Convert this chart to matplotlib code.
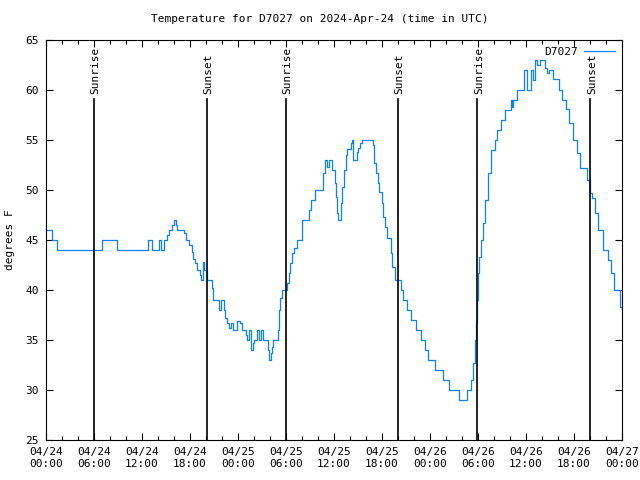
import matplotlib
matplotlib.use('Agg')
import matplotlib.pyplot as plt
from matplotlib.ticker import MultipleLocator

# ---- data (hours since 2024-04-24 00:00 UTC, degrees F) ----
hours = [0.0, 0.7, 1.4, 7.0, 8.9, 12.8, 13.3, 14.1, 14.4, 14.75, 15.1, 15.4, 15.7, 16.0,
         16.2, 16.35, 17.3, 17.55, 17.9, 18.2, 18.4, 18.6, 18.9, 19.25, 19.375, 19.6, 19.75,
         20.08, 20.7, 20.9, 21.67, 21.875, 22.2, 22.4, 22.67, 22.9, 23.08, 23.33, 23.9, 24.25,
         24.46, 25.0, 25.17, 25.375, 25.625, 25.83, 26.0, 26.42, 26.58, 26.92, 27.17, 27.79,
         27.92, 28.08, 28.2, 28.42, 29.04, 29.125, 29.25, 29.46, 30.17, 30.33, 30.5, 30.79,
         31.0, 31.42, 32.04, 32.92, 33.125, 33.625, 34.58, 34.67, 34.875, 35.08, 35.42, 35.71,
         36.125, 36.25, 36.33, 36.46, 36.875, 37.04, 37.25, 37.5, 37.67, 38.08, 38.21, 38.33,
         38.83, 39.04, 39.25, 39.46, 40.83, 41.04, 41.25, 41.46, 41.67, 41.96, 42.17, 42.375,
         42.58, 43.08, 43.29, 43.625, 44.33, 44.67, 45.08, 45.58, 46.25, 46.875, 47.42, 47.79,
         48.625, 49.67, 50.42, 51.67, 52.58, 53.08, 53.33, 53.58, 53.75, 53.875, 54.04, 54.17,
         54.375, 54.58, 54.875, 55.29, 55.58, 56.125, 56.42, 56.875, 57.375, 58.08, 58.25,
         58.4, 58.92, 59.75, 60.17, 60.58, 60.83, 61.125, 61.42, 61.75, 62.375, 62.67, 62.92,
         63.42, 64.17, 64.46, 65.0, 65.42, 65.92, 66.33, 66.75, 67.58, 68.0, 68.2, 68.625,
         69.04, 69.67, 70.2, 70.625, 71.0, 71.75, 72.0]
temps = [46, 45, 44, 45, 44, 45, 44, 45, 44, 45, 45.5, 46, 46.5, 47,
         46.5, 46, 45.7, 45, 44.5, 43.8, 43.1, 42.7, 42, 41.5, 41, 42.8, 42,
         41, 40.2, 39, 38, 39, 38, 37.2, 36.7, 36.2, 36.7, 36, 36.9, 36.7,
         36, 35.5, 35, 36, 34, 34.7, 35, 36, 35, 36, 35, 34,
         33, 33.7, 34.3, 35, 36, 38, 39.2, 40, 40.7, 41.7, 42.7, 43.7,
         44.2, 45, 47, 48, 49, 50, 50.7, 51.7, 53, 52.3, 53, 52,
         50.7, 49.3, 47.7, 47, 48.7, 50.3, 52, 53.5, 54.1, 54.7, 55, 53,
         53.8, 54.2, 54.7, 55, 54.5, 52.7, 51.7, 50.7, 49.8, 48.7, 47.3, 46.3,
         45.2, 43.7, 42.3, 41, 40, 39, 38, 37, 36, 35, 34, 33,
         32, 31, 30, 29, 30, 31, 32.7, 35, 36.7, 39, 41.7, 43.3,
         45, 46.7, 49, 51.7, 54, 55, 56, 57, 58, 59, 58.3,
         59, 60, 62, 60, 62, 61, 63, 62.5, 63, 62.2, 61.7, 62,
         61.1, 60, 59, 58.1, 56.7, 55, 53.7, 52.2, 51, 49.7, 49.2, 47.7,
         46, 44, 43, 41.7, 40, 38.3, 38]

sunrise_hours = [6.0, 30.0, 53.9]
sunset_hours = [20.12, 44.0, 68.04]

tick_hours = list(range(0, 73, 6))
tick_labels = ['04/24\n00:00', '04/24\n06:00', '04/24\n12:00', '04/24\n18:00',
               '04/25\n00:00', '04/25\n06:00', '04/25\n12:00', '04/25\n18:00',
               '04/26\n00:00', '04/26\n06:00', '04/26\n12:00', '04/26\n18:00',
               '04/27\n00:00']

plt.rcParams['font.family'] = 'DejaVu Sans Mono'
plt.rcParams['font.size'] = 8

fig = plt.figure(figsize=(6.4, 4.8), dpi=100)
ax = fig.add_axes([46 / 640, 40 / 480, 576 / 640, 400 / 480])

ax.plot(hours, temps, color='#0a80ff', lw=0.9, drawstyle='steps-post', label='D7027')

for h in sunrise_hours:
    ax.axvline(h, ymin=0, ymax=0.852, color='black', lw=1.2)
    ax.text(h + 0.2, 0.866, 'Sunrise', rotation=90, ha='center', va='bottom',
            transform=ax.get_xaxis_transform())
for h in sunset_hours:
    ax.axvline(h, ymin=0, ymax=0.852, color='black', lw=1.2)
    ax.text(h + 0.2, 0.866, 'Sunset', rotation=90, ha='center', va='bottom',
            transform=ax.get_xaxis_transform())

ax.set_xlim(0, 72)
ax.set_ylim(25, 65)
ax.set_xticks(tick_hours)
ax.set_xticklabels(tick_labels)
ax.xaxis.set_minor_locator(MultipleLocator(2))
ax.yaxis.set_major_locator(MultipleLocator(5))
ax.tick_params(which='both', direction='in', top=True, right=True, width=0.8)
ax.tick_params(which='major', length=5, pad=5)
ax.tick_params(which='minor', length=3)
for s in ax.spines.values():
    s.set_linewidth(0.8)

ax.set_ylabel('degrees F', va='center')
ax.yaxis.set_label_coords((10 - 46) / 576, 0.5)
fig.text(0.5, 1 - 19 / 480, 'Temperature for D7027 on 2024-Apr-24 (time in UTC)',
         ha='center', va='center')

ax.legend(loc='upper right', frameon=False, markerfirst=False, handlelength=2.8,
          borderaxespad=0.2, handletextpad=0.6)

fig.savefig('out.png', dpi=100)
